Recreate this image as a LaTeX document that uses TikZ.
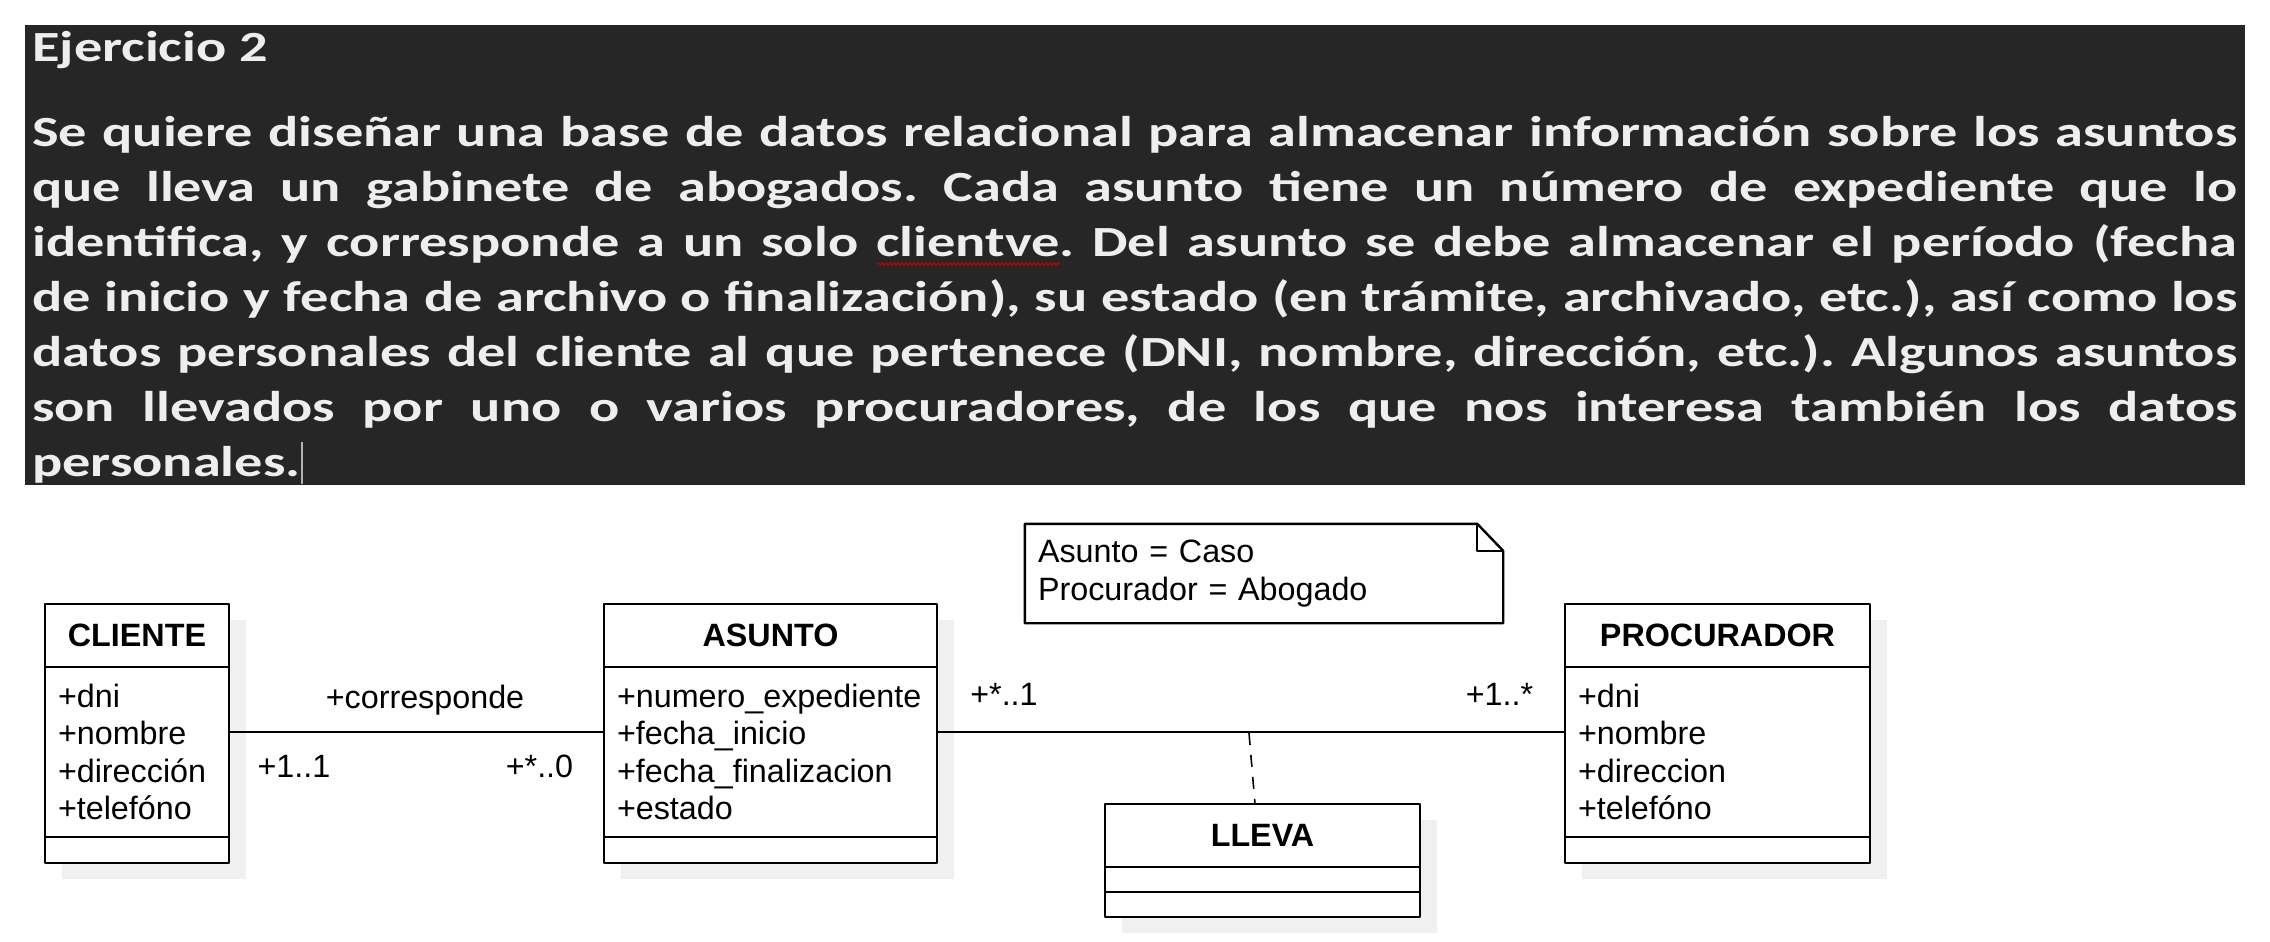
\documentclass[tikz,border=0pt]{standalone}
\usepackage{fontspec}
\setmainfont{Liberation Sans}
\newfontfamily\textoej[FakeStretch=1.31]{Carlito}
\usetikzlibrary{positioning,shadows,decorations.pathmorphing}
\definecolor{fondo}{HTML}{262626}
\definecolor{letra}{HTML}{EEEEEE}
\definecolor{sombra}{HTML}{F0F0F0}
\frenchspacing
\tikzset{
  clase/.style={draw, fill=white, line width=2.4pt, outer sep=0pt, inner sep=0pt,
    drop shadow={shadow xshift=17pt, shadow yshift=-16pt, fill=sombra, opacity=1}},
  cabecera/.style={clase, minimum height=63pt, font=\fontsize{32.3}{37.3}\selectfont\bfseries},
  atributos/.style={clase, inner xsep=13pt, minimum height=170pt, align=left,
    font=\fontsize{32.3}{37.3}\selectfont},
  metodos/.style={clase, minimum height=26pt},
  rol/.style={anchor=base, inner sep=0pt, font=\fontsize{32.3}{37.3}\selectfont},
  parrafo/.style={anchor=base west, inner sep=0pt, text=letra,
    font=\textoej\bfseries\fontsize{43}{55}\selectfont}
}
\begin{document}
\begin{tikzpicture}[x=1pt, y=-1pt, line join=round]
\useasboundingbox (0,0) rectangle (2270,942);
% enunciado
\fill[fondo] (25,25) rectangle (2245,485);
\node[parrafo] (titulo) at (32,62) {Ejercicio 2};
\node[parrafo] (l1) at (32,146) {\makebox[2205pt][s]{Se quiere diseñar una base de datos relacional para almacenar información sobre los asuntos}};
\node[parrafo] (l2) at (32,201) {\makebox[2205pt][s]{que lleva un gabinete de abogados. Cada asunto tiene un número de expediente que lo}};
\node[parrafo] (l3) at (32,256) {\makebox[2205pt][s]{identifica, y corresponde a un solo clientve. Del asunto se debe almacenar el período (fecha}};
\node[parrafo] (l4) at (32,311) {\makebox[2205pt][s]{de inicio y fecha de archivo o finalización), su estado (en trámite, archivado, etc.), así como los}};
\node[parrafo] (l5) at (32,366) {\makebox[2205pt][s]{datos personales del cliente al que pertenece (DNI, nombre, dirección, etc.). Algunos asuntos}};
\node[parrafo] (l6) at (32,421) {\makebox[2205pt][s]{son llevados por uno o varios procuradores, de los que nos interesa también los datos}};
\node[parrafo] (l7) at (32,476) {personales.};
\draw[red!75!black, line width=1.2pt, decorate, decoration={snake, amplitude=1.2pt, segment length=4pt}] (877,264) -- (1060,264);
\draw[letra!70!fondo, line width=1.5pt] (302,442) -- (302,484);

% clases
\node[cabecera, minimum width=184pt] (cliente) at (137,635.5) {CLIENTE};
\node[atributos, text width=158pt, below=0pt of cliente] (cliente-at) {+dni\\+nombre\\+dirección\\+telefóno};
\node[metodos, minimum width=184pt, below=0pt of cliente-at] (cliente-op) {};

\node[cabecera, minimum width=333pt] (asunto) at (770.5,635.5) {ASUNTO};
\node[atributos, text width=307pt, below=0pt of asunto] (asunto-at) {+numero\_expediente\\+fecha\_inicio\\+fecha\_finalizacion\\+estado};
\node[metodos, minimum width=333pt, below=0pt of asunto-at] (asunto-op) {};

\node[cabecera, minimum width=305pt] (procurador) at (1717.5,635.5) {PROCURADOR};
\node[atributos, text width=279pt, below=0pt of procurador] (procurador-at) {+dni\\+nombre\\+direccion\\+telefóno};
\node[metodos, minimum width=305pt, below=0pt of procurador-at] (procurador-op) {};

\node[cabecera, minimum width=315pt] (lleva) at (1262.5,835.5) {LLEVA};
\node[metodos, minimum width=315pt, minimum height=25pt, below=0pt of lleva] (lleva-at) {};
\node[metodos, minimum width=315pt, minimum height=25pt, below=0pt of lleva-at] (lleva-op) {};

% nota
\node[inner xsep=13pt, inner ysep=0pt, text width=452pt, minimum height=99pt, align=left,
  font=\fontsize{32.3}{37.3}\selectfont] (nota) at (1264,573.5) {Asunto = Caso\\Procurador = Abogado};
\draw[line width=2.4pt] (nota.north west) -- ([xshift=-26pt]nota.north east) -- ([yshift=-27pt]nota.north east)
  -- (nota.south east) -- (nota.south west) -- cycle;
\draw[line width=2.4pt] ([xshift=-26pt]nota.north east) |- ([yshift=-27pt]nota.north east);

% asociaciones
\draw[line width=2.4pt] ([yshift=20pt]cliente-at.east) -- ([yshift=20pt]asunto-at.west);
\draw[line width=2.4pt] ([yshift=20pt]asunto-at.east) -- ([yshift=20pt]procurador-at.west);
\coordinate (lleva-ancla) at (1249,733);
\draw[line width=1.6pt, dash pattern=on 12pt off 10pt] (lleva-ancla) -- ([xshift=-7.5pt]lleva.north);
\foreach \n/\x/\y/\t in {corresponde/425/708/+corresponde, mult-a/294/777/+1..1, mult-b/539.5/777/+*..0,
  mult-c/1004/705/+*..1, mult-d/1499.5/705/+1..*}
  \node[rol] (\n) at (\x,\y) {\t};
\end{tikzpicture}
\end{document}
